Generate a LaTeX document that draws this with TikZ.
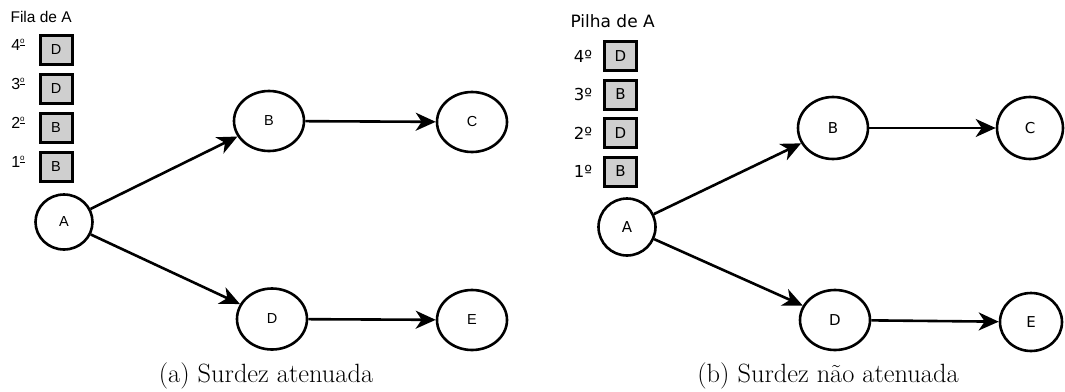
\documentclass[tikz,border=0pt]{standalone}
\usepackage{fontspec}
\usetikzlibrary{shapes.geometric,arrows.meta}
\newfontfamily\lsans{Liberation Sans}
\newfontfamily\dsans{DejaVu Sans}
% raised, underlined ordinal sign for the Arial-like labels
\newcommand\ordsign{\raisebox{0.42em}{\fontsize{8}{8}\selectfont\underline{o}}}
\begin{document}
\begin{tikzpicture}[x=1pt,y=-1pt,
  statenode/.style={ellipse,draw,line width=2.6pt,inner sep=0pt},
  slot/.style={rectangle,draw,line width=3pt,fill=gray!38,inner sep=0pt,
    minimum width=32pt,minimum height=29pt},
  arrowline/.style={line width=2.6pt,-{Stealth[length=20pt,width=18pt,inset=6pt]}},
  lfont/.style={font=\lsans\fontsize{14.5}{16}\selectfont},
  rfont/.style={font=\dsans\fontsize{15}{16}\selectfont},
  captext/.style={font=\fontsize{26.4}{30}\selectfont}]
\useasboundingbox (0,0) rectangle (1065,391);

% ---- (a) queue ----
\node[font=\lsans\fontsize{15.5}{17}\selectfont,anchor=west] (qtitle) at (7,17) {Fila de A};
\foreach \n/\lab/\y in {q4/D/50,q3/D/89,q2/B/128,q1/B/167}{
  \node[slot,lfont] (\n) at (56,\y) {\lab};
}
\foreach \n/\lab/\y in {ql4/4/45,ql3/3/84,ql2/2/123,ql1/1/162}{
  \node[font=\lsans\fontsize{16}{18}\selectfont] (\n) at (18,\y) {\lab\ordsign};
}

\node[statenode,lfont,minimum width=57pt,minimum height=55pt] (aA) at (64,222) {A};
\node[statenode,lfont,minimum width=70pt,minimum height=60pt] (aB) at (269,121) {B};
\node[statenode,lfont,minimum width=70pt,minimum height=60pt] (aC) at (472,122) {C};
\node[statenode,lfont,minimum width=70pt,minimum height=61pt] (aD) at (272,319) {D};
\node[statenode,lfont,minimum width=70pt,minimum height=60pt] (aE) at (472,320) {E};
\draw[arrowline] (aA) -- (aB);
\draw[arrowline] (aA) -- (aD);
\draw[arrowline] (aB) -- (aC);
\draw[arrowline] (aD) -- (aE);

% ---- (b) stack ----
\node[font=\dsans\fontsize{17}{19}\selectfont,anchor=west] (stitle) at (567,21) {Pilha de A};
\foreach \n/\lab/\y in {s4/D/56,s3/B/94.5,s2/D/133,s1/B/171.5}{
  \node[slot,rfont] (\n) at (620.5,\y) {\lab};
}
\foreach \n/\lab/\y in {sl4/4º/56,sl3/3º/94.5,sl2/2º/133,sl1/1º/171.5}{
  \node[font=\dsans\fontsize{16.5}{18}\selectfont] (\n) at (583,\y) {\lab};
}

\node[statenode,rfont,minimum width=57pt,minimum height=57pt] (bA) at (627,227) {A};
\node[statenode,rfont,minimum width=70pt,minimum height=62pt] (bB) at (833,128) {B};
\node[statenode,rfont,minimum width=66pt,minimum height=62pt] (bC) at (1030,128) {C};
\node[statenode,rfont,minimum width=70pt,minimum height=60pt] (bD) at (835,320) {D};
\node[statenode,rfont,minimum width=62pt,minimum height=58pt] (bE) at (1031,322) {E};
\draw[arrowline] (bA) -- (bB);
\draw[arrowline] (bA) -- (bD);
\draw[arrowline] (bB) -- (bC);
\draw[arrowline] (bD) -- (bE);

% ---- captions ----
\node[captext] (capa) at (266,376) {(a) Surdez atenuada};
\node[captext] (capb) at (828,376) {(b) Surdez não atenuada};
\end{tikzpicture}
\end{document}
